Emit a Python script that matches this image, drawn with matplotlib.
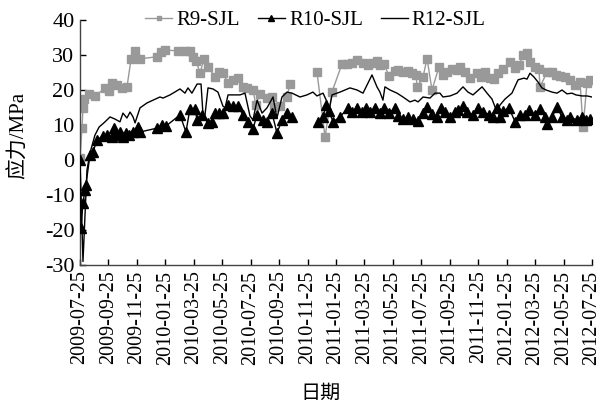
import numpy as np
import matplotlib
matplotlib.use("Agg")
import matplotlib.pyplot as plt

plt.rcParams['font.family'] = ['Liberation Serif', 'Noto Sans CJK SC']
plt.rcParams['axes.unicode_minus'] = False

# x in months since 2009-07-25
tick_labels = ["2009-07-25", "2009-09-25", "2009-11-25", "2010-01-25", "2010-03-25",
               "2010-05-25", "2010-07-25", "2010-09-25", "2010-11-25", "2011-01-25",
               "2011-03-25", "2011-05-25", "2011-07-25", "2011-09-25", "2011-11-25",
               "2012-01-25", "2012-03-25", "2012-05-25", "2012-07-25"]
tick_months = [0, 2, 4, 6, 8, 10, 12, 14, 16, 18, 20, 22, 24, 26, 28, 30, 32, 34, 36]

r9_t = [0.0, 0.14, 0.21, 0.28, 0.63, 1.05, 1.76, 2.04, 2.25, 2.60, 2.95, 3.30, 3.59, 3.87,
        4.22, 5.41, 5.70, 5.98, 6.89, 7.38, 7.73, 7.95, 8.16, 8.44, 8.72, 9.0, 9.49, 9.77,
        10.05, 10.41, 10.76, 11.11, 11.46, 11.74, 12.16, 12.37, 12.66, 13.15, 13.5, 13.64,
        14.06, 14.55, 14.77, 15.7,
        16.66, 17.23, 17.72, 18.42, 18.77, 19.13, 19.48, 19.90, 20.25, 20.53, 20.88, 21.09,
        21.37, 21.73, 22.15, 22.36, 22.71, 23.06, 23.34, 23.63, 23.70, 24.12, 24.40, 24.75,
        25.24, 25.52, 25.80, 26.16, 26.51, 26.72, 27.07, 27.42, 27.91, 28.20, 28.48, 28.83,
        29.11, 29.39, 29.74, 30.23, 30.59, 30.87, 31.15, 31.43, 31.64, 32.0, 32.27, 32.34,
        32.84, 33.19, 33.47, 33.75, 34.10, 34.45, 34.80, 35.16, 35.37, 35.65, 35.86]
r9_v = [0.5, 9.2, 14.8, 17.4, 19.0, 18.3, 20.5, 19.7, 22.0, 21.4, 20.5, 20.8, 28.8, 31.2,
        28.9, 29.5, 30.8, 31.4, 31.2, 31.2, 31.2, 29.5, 28.4, 24.8, 29.0, 26.6, 23.8, 25.2,
        24.8, 22.0, 22.9, 23.4, 20.8, 20.5, 20.0, 15.7, 19.0, 17.6, 18.0, 15.2,
        15.4, 18.0, 21.7, np.nan,
        25.2, 6.6, 19.5, 27.4, 27.4, 27.7, 28.6, 27.7, 27.1, 27.7, 28.3, 27.1,
        27.4, 24.0, 25.4, 25.7, 25.1, 25.4, 24.8, 24.3, 20.9, 23.7, 29.0, 20.0,
        26.6, 24.3, 25.1, 26.0, 25.7, 26.6, 25.1, 23.4, 24.8, 23.7, 25.1, 23.4,
        23.1, 24.8, 26.0, 28.0, 26.3, 27.1, 30.0, 30.6, 28.0, 26.6, 26.0, 20.9,
        25.1, 25.1, 24.3, 24.0, 23.7, 22.9, 21.4, 22.3, 9.4, 22.0, 22.9]

r10_t = [0.0, 0.07, 0.21, 0.35, 0.42, 0.70, 0.91, 1.20, 1.62, 1.90, 2.25, 2.39, 2.53, 2.81,
         3.02, 3.23, 3.45, 3.73, 4.08, 4.22, 5.41, 5.77, 6.05, 7.03, 7.45, 7.73, 8.09, 8.23,
         8.58, 9.0, 9.28, 9.49, 9.77, 10.05, 10.41, 10.76, 11.11, 11.46, 11.81, 12.16, 12.45,
         12.87, 13.15, 13.5, 13.85, 14.20, 14.55, 14.91, 15.8,
         16.73, 17.09, 17.30, 17.51, 17.79, 18.28, 18.84, 19.13, 19.48, 19.83, 20.11, 20.39,
         20.74, 21.09, 21.37, 21.73, 22.15, 22.36, 22.71, 23.06, 23.41, 23.77, 24.12, 24.40,
         24.75, 25.10, 25.38, 25.66, 26.02, 26.37, 26.58, 26.93, 27.21, 27.63, 27.98, 28.34,
         28.76, 29.04, 29.32, 29.53, 29.74, 30.16, 30.59, 30.94, 31.29, 31.57, 32.0, 32.34,
         32.70, 32.84, 33.19, 33.54, 33.89, 34.24, 34.45, 34.94, 35.30, 35.58, 35.86]
r10_v = [0.0, -19.4, -12.3, -8.6, -7.0, 1.4, 2.3, 5.7, 6.9, 7.1, 6.6, 9.1, 7.1, 8.0,
         6.6, 7.7, 7.1, 8.0, 9.4, 8.0, 9.1, 10.0, 9.7, 12.9, 8.0, 14.6, 14.6, 11.4,
         12.9, 10.6, 10.9, 13.4, 13.4, 13.4, 15.7, 15.4, 15.4, 12.9, 10.9, 8.9, 12.9,
         11.4, 10.9, 13.4, 7.7, 11.4, 13.4, 12.3, np.nan,
         10.9, 12.3, 15.7, 14.0, 10.9, 12.3, 14.9, 13.7, 14.9, 13.7, 14.9, 13.7,
         14.9, 13.4, 14.9, 13.4, 14.9, 12.6, 11.7, 12.3, 11.7, 11.1, 13.4, 15.1,
         13.1, 12.3, 14.9, 13.7, 12.3, 13.7, 14.3, 15.4, 13.7, 12.9, 14.9, 13.7,
         12.9, 12.3, 14.9, 12.3, 14.0, 14.9, 10.9, 12.9, 12.9, 14.3, 12.9, 14.6,
         12.3, 10.3, 12.3, 15.1, 12.3, 11.4, 12.3, 11.4, 12.3, 11.4, 11.7]

r12_t = [0.0, 0.21, 0.49, 0.70, 1.05, 1.34, 1.76, 2.11, 2.46, 2.81, 3.02, 3.30, 3.52, 3.73,
         3.87, 4.22, 4.71, 5.62, 5.84, 6.33, 7.03, 7.38, 7.59, 7.87, 8.23, 8.51, 8.65, 8.79,
         9.0, 9.35, 9.70, 10.05, 10.20, 10.41, 10.76, 11.25, 11.60, 11.95, 12.16, 12.45,
         12.80, 13.15, 13.57, 13.85, 14.20, 14.55, 14.91, 15.47, 15.96, 16.38, 16.66, 17.09,
         17.37, 17.51, 17.72, 18.28, 18.98, 19.48, 19.90, 20.53, 20.88, 21.09, 21.30, 21.44,
         21.80, 22.29, 22.71, 23.20, 23.55, 23.77, 24.12, 24.61, 24.96, 25.31, 25.52, 26.02,
         26.51, 26.93, 27.28, 27.63, 28.27, 28.62, 28.97, 29.32, 29.53, 29.88, 30.37, 30.80,
         31.22, 31.43, 31.64, 31.92, 32.20, 32.48, 32.77, 33.19, 33.54, 33.89, 34.24, 34.59,
         34.87, 35.30, 35.65, 36.0]
r12_v = [0.0, -29.0, -2.9, 2.0, 7.1, 9.4, 10.9, 12.3, 11.7, 10.9, 13.4, 12.0, 13.7, 12.3,
         10.6, 14.9, 16.3, 18.0, 17.7, 18.6, 20.3, 19.1, 20.6, 19.1, 21.7, 21.7, 12.9, 12.9,
         20.6, 20.3, 19.4, 15.4, 14.9, 18.6, 18.6, 18.6, 19.1, 12.6, 11.4, 17.1,
         13.4, 14.9, 18.0, 12.0, 18.0, 19.4, 19.1, 18.0, 18.6, 19.4, 18.3, 19.1,
         16.6, 14.0, 18.6, 19.4, 20.6, 20.0, 19.1, 24.3, 20.9, 19.4, 17.1, 20.9,
         20.0, 19.1, 18.0, 16.6, 17.1, 16.6, 18.0, 17.7, 19.1, 19.1, 18.0, 18.3,
         19.1, 20.9, 19.4, 18.6, 20.9, 19.1, 17.4, 13.7, 15.7, 17.4, 19.1, 22.9,
         23.4, 23.1, 24.8, 23.7, 22.3, 20.6, 20.0, 19.4, 19.1, 20.0, 18.9, 19.1,
         18.6, 18.3, 18.3, 18.0]

fig = plt.figure(figsize=(6.01, 4.09), dpi=100)
ax = fig.add_axes([80/601, 1-265/409, 512/601, 245/409])

ax.plot(r9_t, r9_v, color='#999999', lw=1.0, marker='s', ms=6, mec='#999999',
        mfc='#999999', label='R9-SJL', zorder=2)
ax.plot(r10_t, r10_v, color='black', lw=1.0, marker='^', ms=6.5, mec='black',
        mfc='black', label='R10-SJL', zorder=3)
ax.plot(r12_t, r12_v, color='black', lw=1.0, label='R12-SJL', zorder=4)

ax.set_xlim(0, 36)
ax.set_ylim(-30, 40)
ax.set_xticks(tick_months)
ax.set_xticklabels(tick_labels, rotation=90, fontsize=14.5)
ax.set_yticks(range(-30, 41, 10))
ax.tick_params(axis='y', labelsize=16, direction='in', length=4, width=1, pad=4)
ax.tick_params(axis='x', direction='in', length=4, width=1, pad=4)
for s in ['top', 'right']:
    ax.spines[s].set_visible(False)
for s in ['left', 'bottom']:
    ax.spines[s].set_color('#444444')
    ax.spines[s].set_linewidth(1.0)

ax.set_ylabel('应力/MPa', fontsize=15)
ax.yaxis.set_label_coords(-0.100, 0.527)
ax.set_xlabel('日期', fontsize=14.5)
ax.xaxis.set_label_coords(0.469, -0.488)

leg = ax.legend(loc='center', bbox_to_anchor=(0.46, 1.0), ncol=3, frameon=False,
                fontsize=15, handlelength=1.3, handletextpad=0.2, columnspacing=0.85,
                borderaxespad=0, borderpad=0, markerscale=0.6)

fig.savefig('out.png', dpi=100)
